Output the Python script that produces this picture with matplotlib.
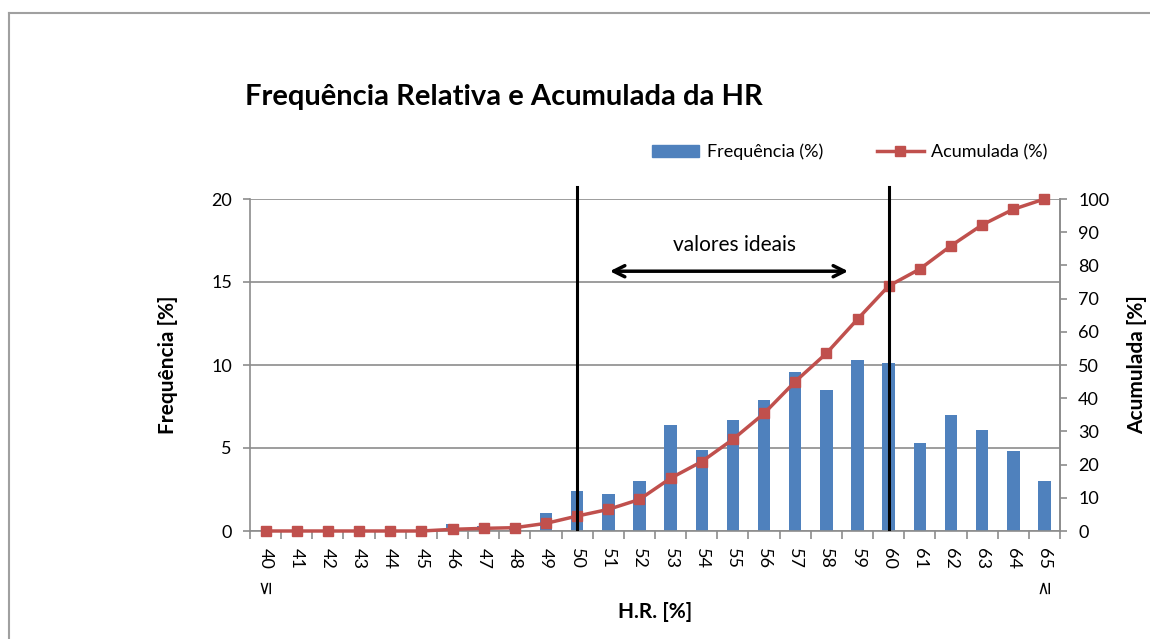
import numpy as np
import matplotlib.pyplot as plt
from matplotlib.lines import Line2D
from matplotlib.patches import Patch

plt.rcParams['font.family'] = ['Lato', 'DejaVu Sans']

# categories of H.R. [%]
hr_numbers = ["40", "41", "42", "43", "44", "45", "46", "47", "48", "49", "50", "51", "52",
              "53", "54", "55", "56", "57", "58", "59", "60", "61", "62", "63", "64", "65"]
frequencia = [0, 0, 0, 0, 0, 0, 0.4, 0.3, 0.2, 1.1, 2.4, 2.2, 3.0,
              6.4, 4.9, 6.7, 7.9, 9.6, 8.5, 10.3, 10.1, 5.3, 7.0, 6.1, 4.8, 3.0]
acumulada = [0, 0, 0, 0, 0, 0, 0.5, 0.8, 1.0, 2.3, 4.5, 6.5, 9.5,
             15.9, 20.9, 27.6, 35.4, 45.0, 53.5, 63.8, 73.8, 78.9, 85.9, 92.2, 96.9, 100]
ideal_limits = ["50", "60"]

blue = "#4F81BD"
red = "#C0504D"
grey = "#8C8C8C"

fig = plt.figure(figsize=(11.5, 6.39), dpi=100)
ax = fig.add_axes([250 / 1150, 1 - 531 / 639, 810 / 1150, 332 / 639])
x = np.arange(len(hr_numbers))

ax.bar(x, frequencia, width=0.4, color=blue, zorder=2)
ax.set_xlim(-0.5, len(hr_numbers) - 0.5)
ax.set_ylim(0, 20)
ax.set_yticks([0, 5, 10, 15, 20])
ax.grid(axis="y", color=grey, lw=1.2, zorder=0)
ax.set_axisbelow(True)

ax.set_xticks(x)
ax.set_xticklabels(hr_numbers, rotation=-90, fontsize=13)
ax.set_xticks(np.arange(-0.5, len(hr_numbers)), minor=True)
ax.tick_params(axis="x", which="major", length=0, pad=12)
ax.tick_params(axis="x", which="minor", length=6, color=grey, width=1.2, direction="out")
ax.tick_params(axis="y", length=5, color=grey, width=1.2, labelsize=13, pad=8)
ax.spines["top"].set_visible(False)
for s in ["left", "bottom", "right"]:
    ax.spines[s].set_color(grey)
    ax.spines[s].set_linewidth(1.2)

# ≤ and ≥ signs below the first and last labels
ax.text(0, -0.168, "≤", rotation=90, transform=ax.get_xaxis_transform(),
        ha="center", va="center", fontsize=13, family="DejaVu Sans")
ax.text(len(hr_numbers) - 1, -0.168, "≥", rotation=90, transform=ax.get_xaxis_transform(),
        ha="center", va="center", fontsize=13, family="DejaVu Sans")

ax.set_xlabel("H.R. [%]", fontsize=15, fontweight="bold", labelpad=24)
ax.set_ylabel("Frequência [%]", fontsize=15, fontweight="bold", labelpad=24)

ax2 = ax.twinx()
ax2.plot(x, acumulada, color=red, lw=2.5, marker="s", markersize=7, zorder=3, clip_on=False)
ax2.set_ylim(0, 100)
ax2.set_yticks(np.arange(0, 101, 10))
ax2.tick_params(axis="y", length=5, color=grey, width=1.2, labelsize=13, pad=8)
for s in ["top", "left", "bottom"]:
    ax2.spines[s].set_visible(False)
ax2.spines["right"].set_color(grey)
ax2.spines["right"].set_linewidth(1.2)
ax2.set_ylabel("Acumulada [%]", fontsize=15, fontweight="bold", labelpad=13)

# limits of the ideal range
for lim in ideal_limits:
    xi = hr_numbers.index(lim)
    ax2.plot([xi, xi], [0.5, 103.6], color="black", lw=2.2, zorder=4, clip_on=False)

i0 = hr_numbers.index("50")
i1 = hr_numbers.index("60")
ax.annotate("", xy=(i0 + 1.05, 15.65), xytext=(i1 - 1.3, 15.65),
            arrowprops=dict(arrowstyle="<->,head_length=0.8,head_width=0.4", color="black",
                            lw=2.5, shrinkA=0, shrinkB=0))
ax.text((i0 + i1) / 2 + 0.05, 17.2, "valores ideais", ha="center", va="center", fontsize=15)

fig.text(245 / 1150, 1 - 97 / 639, "Frequência Relativa e Acumulada da HR",
         fontsize=21, fontweight="bold", ha="left", va="center")

handles = [Patch(color=blue),
           Line2D([], [], color=red, lw=2.5, marker="s", markersize=7)]
fig.legend(handles, ["Frequência (%)", "Acumulada (%)"], loc="center",
           bbox_to_anchor=(850 / 1150, 1 - 152 / 639), ncol=2, frameon=False,
           fontsize=13, handlelength=2.6, columnspacing=3.0, handletextpad=0.4)

# chart area border
fig.add_artist(Line2D([8.5 / 1150, 8.5 / 1150], [0, 1 - 13 / 639], color="#A0A0A0", lw=1.5))
fig.add_artist(Line2D([8.5 / 1150, 1], [1 - 13 / 639, 1 - 13 / 639], color="#A0A0A0", lw=1.5))

fig.savefig("out.png", dpi=100)
